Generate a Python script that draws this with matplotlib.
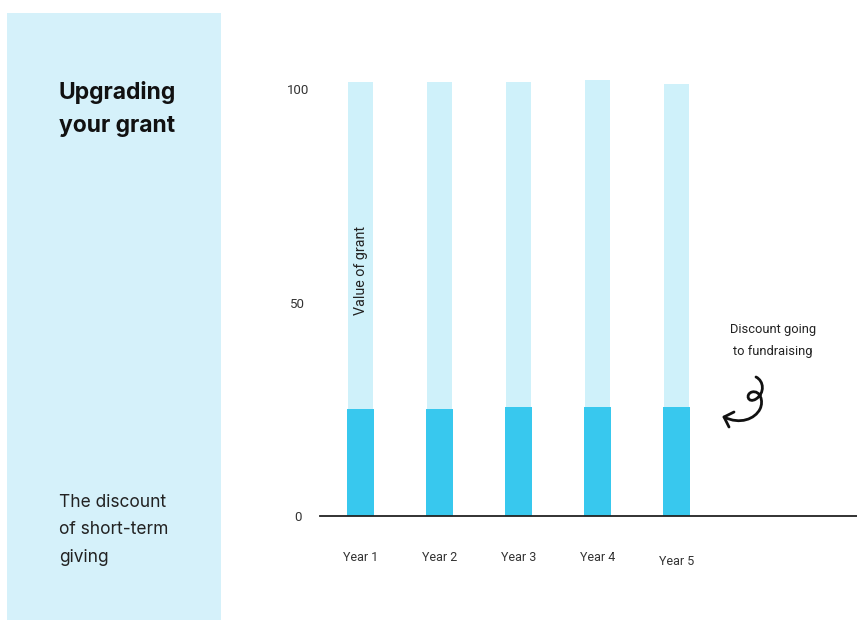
import matplotlib
matplotlib.use("Agg")
import matplotlib.pyplot as plt
from matplotlib.patches import Rectangle, PathPatch
from matplotlib.path import Path
import matplotlib.transforms as mtransforms

categories = ["Year 1", "Year 2", "Year 3", "Year 4", "Year 5"]
grant_value = [101.7, 101.7, 101.7, 102.0, 101.2]
discount = [25.1, 25.1, 25.6, 25.6, 25.6]
y_ticks = [0, 50, 100]

W, H = 857, 620
fig = plt.figure(figsize=(W / 100, H / 100), dpi=100)
fig.patch.set_facecolor("white")

def fx(px):
    return px / W

def fy(py):
    return 1 - py / H

# left panel
fig.patches.append(Rectangle((fx(7), 0), fx(221) - fx(7), fy(13), transform=fig.transFigure,
                             facecolor="#D5F1FA", edgecolor="none", zorder=0))

fig.text(fx(59), fy(109), "Upgrading\nyour grant", fontsize=16.5, fontweight="bold",
         family=["Inter", "DejaVu Sans"], color="#111111", va="center", ha="left", linespacing=1.6)
fig.text(fx(59), fy(530), "The discount\nof short-term\ngiving", fontsize=12.5,
         family=["Inter", "DejaVu Sans"], color="#222222", va="center", ha="left", linespacing=1.8)

# axes: 0 at y=516 px, 4.27 px per unit; x: cat 0 at 360.5 px, 79 px per cat
ppu = 4.27
ymax = 115
ax_left, ax_right = 320, 857
ax_bottom = 516
ax_top = ax_bottom - ymax * ppu
ax = fig.add_axes([fx(ax_left), fy(ax_bottom), fx(ax_right) - fx(ax_left), fy(ax_top) - fy(ax_bottom)])
ax.set_facecolor("none")
c0, step = 360.5, 79.0
ax.set_xlim((ax_left - c0) / step, (ax_right - c0) / step)
ax.set_ylim(0, ymax)

x = list(range(len(categories)))
ax.bar(x, grant_value, width=0.32, color="#CFF1FA", zorder=1)
ax.bar(x, discount, width=0.345, color="#38C8EE", zorder=2)

for s in ["top", "right", "left"]:
    ax.spines[s].set_visible(False)
ax.spines["bottom"].set_color("#222222")
ax.spines["bottom"].set_linewidth(1.3)
ax.spines["bottom"].set_zorder(3)

ax.set_yticks(y_ticks)
ax.set_yticklabels([str(v) for v in y_ticks], family=["Roboto", "DejaVu Sans"], fontsize=9.5, color="#333333")
ax.tick_params(axis="y", length=0, pad=16)
for lab in ax.get_yticklabels():
    lab.set_horizontalalignment("center")

ax.set_xticks(x)
ax.set_xticklabels(categories, family=["Roboto", "DejaVu Sans"], fontsize=9, color="#333333")
ax.tick_params(axis="x", length=0, pad=25.5)
lab5 = ax.get_xticklabels()[4]
lab5.set_transform(lab5.get_transform() + mtransforms.ScaledTranslation(0, -4 / 100, fig.dpi_scale_trans))

ax.text(0, 57.4, "Value of grant", rotation=90, ha="center", va="center", fontsize=10.3,
        family=["Roboto", "DejaVu Sans"], color="#222222", zorder=4)

fig.text(fx(773), fy(340), "Discount going\nto fundraising", ha="center", va="center", fontsize=9.3,
         family=["Roboto", "DejaVu Sans"], color="#222222", linespacing=1.9)

# curly arrow
pts = [(756, 377), (764, 381), (765, 393), (756, 399),
       (748, 404), (745, 394), (752, 392),
       (760, 390), (764, 401), (760, 409),
       (755, 419), (740, 425), (724, 417)]
codes = [Path.MOVETO] + [Path.CURVE4] * 12
verts = [(fx(a), fy(b)) for a, b in pts]
fig.patches.append(PathPatch(Path(verts, codes), transform=fig.transFigure, fill=False,
                             edgecolor="#111111", linewidth=2.0, capstyle="round"))
head = [(734, 412), (724, 417), (729, 427)]
fig.lines.append(plt.Line2D([fx(a) for a, b in head], [fy(b) for a, b in head], transform=fig.transFigure,
                            color="#111111", linewidth=2.0, solid_capstyle="round", solid_joinstyle="round"))

fig.savefig("out.png", dpi=100)
